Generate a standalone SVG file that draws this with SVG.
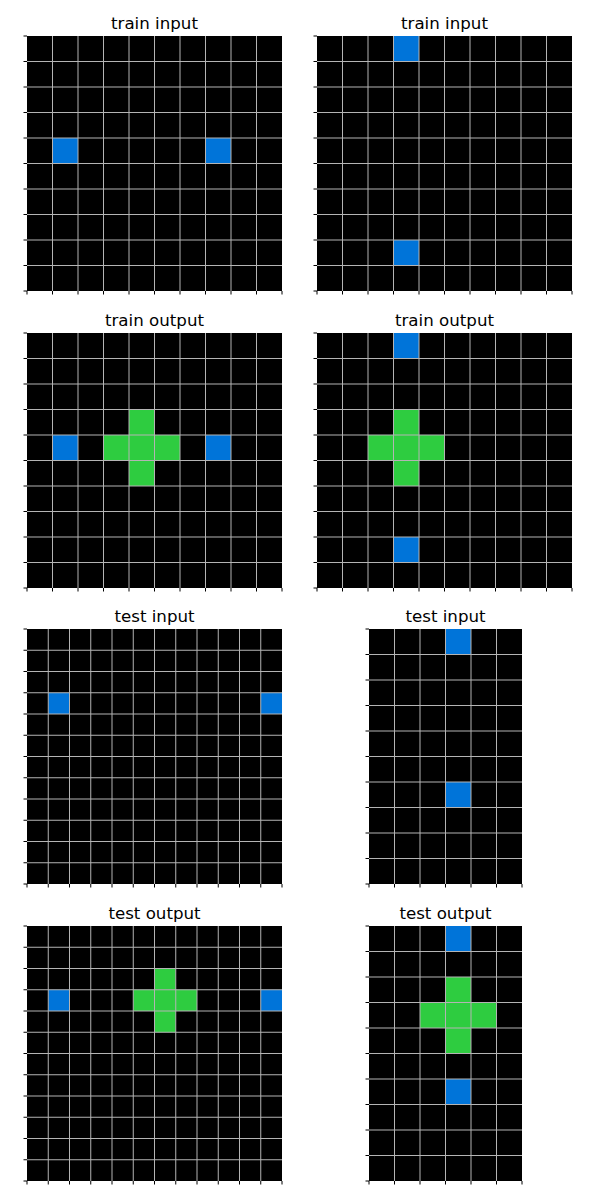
<svg xmlns="http://www.w3.org/2000/svg" width="600" height="1200" viewBox="0 0 600 1200">
<style>
.bg{fill:#000}
.b{fill:#0074D9}
.g{fill:#2ECC40}
.gl{stroke:#b4b4b4;stroke-width:1;fill:none}
.tk{stroke:#000;stroke-width:1;fill:none}
.t{font-family:"DejaVu Sans",sans-serif;font-size:16.67px;fill:#000;text-anchor:middle}
</style>
<defs>
<g id="lines10">
<path class="gl" d="M25.5 0V255M51 0V255M76.5 0V255M102 0V255M127.5 0V255M153 0V255M178.5 0V255M204 0V255M229.5 0V255M0 25.5H255M0 51H255M0 76.5H255M0 102H255M0 127.5H255M0 153H255M0 178.5H255M0 204H255M0 229.5H255"/>
</g>
<g id="ticks10">
<path class="tk" d="M-3.5 0H0M-3.5 25.5H0M-3.5 51H0M-3.5 76.5H0M-3.5 102H0M-3.5 127.5H0M-3.5 153H0M-3.5 178.5H0M-3.5 204H0M-3.5 229.5H0M-3.5 255H0M0 255V258.5M25.5 255V258.5M51 255V258.5M76.5 255V258.5M102 255V258.5M127.5 255V258.5M153 255V258.5M178.5 255V258.5M204 255V258.5M229.5 255V258.5M255 255V258.5"/>
</g>
<g id="lines12">
<path class="gl" d="M21.25 0V255M42.5 0V255M63.75 0V255M85 0V255M106.25 0V255M127.5 0V255M148.75 0V255M170 0V255M191.25 0V255M212.5 0V255M233.75 0V255M0 21.25H255M0 42.5H255M0 63.75H255M0 85H255M0 106.25H255M0 127.5H255M0 148.75H255M0 170H255M0 191.25H255M0 212.5H255M0 233.75H255"/>
</g>
<g id="ticks12">
<path class="tk" d="M-3.5 0H0M-3.5 21.25H0M-3.5 42.5H0M-3.5 63.75H0M-3.5 85H0M-3.5 106.25H0M-3.5 127.5H0M-3.5 148.75H0M-3.5 170H0M-3.5 191.25H0M-3.5 212.5H0M-3.5 233.75H0M-3.5 255H0M0 255V258.5M21.25 255V258.5M42.5 255V258.5M63.75 255V258.5M85 255V258.5M106.25 255V258.5M127.5 255V258.5M148.75 255V258.5M170 255V258.5M191.25 255V258.5M212.5 255V258.5M233.75 255V258.5M255 255V258.5"/>
</g>
<g id="lines6">
<path class="gl" d="M25.5 0V255M51 0V255M76.5 0V255M102 0V255M127.5 0V255M0 25.5H153M0 51H153M0 76.5H153M0 102H153M0 127.5H153M0 153H153M0 178.5H153M0 204H153M0 229.5H153"/>
</g>
<g id="ticks6">
<path class="tk" d="M-3.5 0H0M-3.5 25.5H0M-3.5 51H0M-3.5 76.5H0M-3.5 102H0M-3.5 127.5H0M-3.5 153H0M-3.5 178.5H0M-3.5 204H0M-3.5 229.5H0M-3.5 255H0M0 255V258.5M25.5 255V258.5M51 255V258.5M76.5 255V258.5M102 255V258.5M127.5 255V258.5M153 255V258.5"/>
</g>
</defs>
<rect width="600" height="1200" fill="#fff"/>

<g id="train-input-1">
<text class="t" x="154.5" y="29">train input</text>
<g transform="translate(27,36)">
<rect class="bg" width="255" height="255"/>
<rect class="b" x="25.5" y="102" width="25.5" height="25.5"/>
<rect class="b" x="178.5" y="102" width="25.5" height="25.5"/>
<use href="#lines10"/><use href="#ticks10"/>
</g>
</g>

<g id="train-input-2">
<text class="t" x="444.5" y="29">train input</text>
<g transform="translate(317,36)">
<rect class="bg" width="255" height="255"/>
<rect class="b" x="76.5" y="0" width="25.5" height="25.5"/>
<rect class="b" x="76.5" y="204" width="25.5" height="25.5"/>
<use href="#lines10"/><use href="#ticks10"/>
</g>
</g>

<g id="train-output-1">
<text class="t" x="154.5" y="326">train output</text>
<g transform="translate(27,333)">
<rect class="bg" width="255" height="255"/>
<rect class="b" x="25.5" y="102" width="25.5" height="25.5"/>
<rect class="b" x="178.5" y="102" width="25.5" height="25.5"/>
<rect class="g" x="102" y="76.5" width="25.5" height="25.5"/>
<rect class="g" x="76.5" y="102" width="76.5" height="25.5"/>
<rect class="g" x="102" y="127.5" width="25.5" height="25.5"/>
<use href="#lines10"/><use href="#ticks10"/>
</g>
</g>

<g id="train-output-2">
<text class="t" x="444.5" y="326">train output</text>
<g transform="translate(317,333)">
<rect class="bg" width="255" height="255"/>
<rect class="b" x="76.5" y="0" width="25.5" height="25.5"/>
<rect class="b" x="76.5" y="204" width="25.5" height="25.5"/>
<rect class="g" x="76.5" y="76.5" width="25.5" height="25.5"/>
<rect class="g" x="51" y="102" width="76.5" height="25.5"/>
<rect class="g" x="76.5" y="127.5" width="25.5" height="25.5"/>
<use href="#lines10"/><use href="#ticks10"/>
</g>
</g>

<g id="test-input-1">
<text class="t" x="154.5" y="622">test input</text>
<g transform="translate(27,629)">
<rect class="bg" width="255" height="255"/>
<rect class="b" x="21.25" y="63.75" width="21.25" height="21.25"/>
<rect class="b" x="233.75" y="63.75" width="21.25" height="21.25"/>
<use href="#lines12"/><use href="#ticks12"/>
</g>
</g>

<g id="test-input-2">
<text class="t" x="445.5" y="622">test input</text>
<g transform="translate(369,629)">
<rect class="bg" width="153" height="255"/>
<rect class="b" x="76.5" y="0" width="25.5" height="25.5"/>
<rect class="b" x="76.5" y="153" width="25.5" height="25.5"/>
<use href="#lines6"/><use href="#ticks6"/>
</g>
</g>

<g id="test-output-1">
<text class="t" x="154.5" y="919">test output</text>
<g transform="translate(27,926)">
<rect class="bg" width="255" height="255"/>
<rect class="b" x="21.25" y="63.75" width="21.25" height="21.25"/>
<rect class="b" x="233.75" y="63.75" width="21.25" height="21.25"/>
<rect class="g" x="127.5" y="42.5" width="21.25" height="21.25"/>
<rect class="g" x="106.25" y="63.75" width="63.75" height="21.25"/>
<rect class="g" x="127.5" y="85" width="21.25" height="21.25"/>
<use href="#lines12"/><use href="#ticks12"/>
</g>
</g>

<g id="test-output-2">
<text class="t" x="445.5" y="919">test output</text>
<g transform="translate(369,926)">
<rect class="bg" width="153" height="255"/>
<rect class="b" x="76.5" y="0" width="25.5" height="25.5"/>
<rect class="b" x="76.5" y="153" width="25.5" height="25.5"/>
<rect class="g" x="76.5" y="51" width="25.5" height="25.5"/>
<rect class="g" x="51" y="76.5" width="76.5" height="25.5"/>
<rect class="g" x="76.5" y="102" width="25.5" height="25.5"/>
<use href="#lines6"/><use href="#ticks6"/>
</g>
</g>
</svg>
